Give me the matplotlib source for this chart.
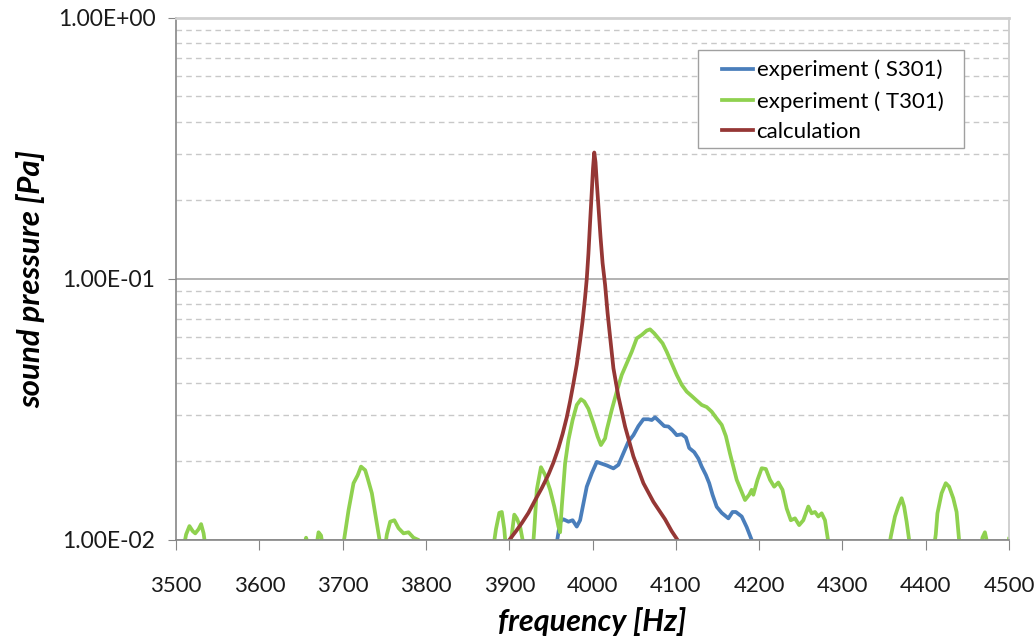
import matplotlib
matplotlib.use("Agg")
import matplotlib.pyplot as plt
from matplotlib.patches import Rectangle
from matplotlib.ticker import FixedLocator, FuncFormatter, NullFormatter

plt.rcParams['font.family'] = ['Lato', 'DejaVu Sans']

# measured spectrum, sensor S301 (Hz, Pa)
s301_freq = [3955, 3958, 3961, 3965, 3971, 3976, 3981, 3985, 3989, 3993, 3999,
             4005, 4011, 4017, 4025, 4031, 4037, 4043, 4049, 4055, 4061, 4067,
             4071, 4075, 4080, 4086, 4091, 4096, 4101, 4107, 4112, 4116, 4122,
             4127, 4131, 4136, 4140, 4144, 4149, 4155, 4163, 4168, 4172, 4179,
             4185, 4191, 4194]
s301_p = [0.0090, 0.0102, 0.01175, 0.0120, 0.01175, 0.0119, 0.01125, 0.0119,
          0.0138, 0.0160, 0.0180, 0.0199, 0.0196, 0.0193, 0.0188, 0.0194,
          0.0215, 0.0238, 0.0252, 0.0273, 0.0290, 0.0290, 0.0288, 0.0295,
          0.0285, 0.0273, 0.0272, 0.0263, 0.0252, 0.0254, 0.0247, 0.0225,
          0.0217, 0.0205, 0.0191, 0.01775, 0.0165, 0.0149, 0.0134, 0.0127,
          0.0121, 0.0128, 0.0128, 0.0123, 0.0112, 0.0100, 0.0090]

# measured spectrum, sensor T301 (Hz, Pa)
t301_freq = [3500, 3508, 3512, 3516, 3520, 3523, 3527, 3530, 3533, 3536,
             3652, 3656, 3660, 3668, 3671, 3674, 3677,
             3699, 3702, 3707, 3713, 3718, 3722, 3727, 3730, 3735, 3739, 3744, 3747,
             3750, 3753, 3757, 3762, 3767, 3773, 3779, 3785, 3791, 3795,
             3880, 3884, 3888, 3891, 3894, 3896, 3900, 3903, 3906, 3909, 3913, 3916, 3918,
             3928, 3930, 3933, 3938, 3943, 3949, 3954, 3959, 3961, 3963, 3967,
             3971, 3976, 3981, 3986, 3990, 3995, 4001, 4006, 4010, 4015, 4017,
             4023, 4029, 4035, 4041, 4047, 4053, 4059, 4065, 4069, 4074, 4079,
             4084, 4089, 4095, 4101, 4107, 4113, 4119, 4125, 4131, 4137, 4143,
             4149, 4155, 4160, 4165, 4169, 4173, 4178, 4183, 4188, 4191, 4193,
             4198, 4203, 4208, 4213, 4218, 4223, 4228, 4233, 4238, 4243, 4248,
             4253, 4259, 4263, 4267, 4271, 4275, 4279, 4282, 4285,
             4355, 4358, 4363, 4367, 4371, 4374, 4377, 4380, 4382,
             4409, 4412, 4414, 4419, 4424, 4428, 4433, 4437, 4440, 4442,
             4466, 4468, 4471, 4473, 4475, 4498, 4500]
t301_p = [0.0090, 0.0090, 0.0105, 0.0113, 0.0108, 0.0106, 0.0110, 0.0115, 0.0106, 0.0090,
          0.0090, 0.0102, 0.0093, 0.0093, 0.0107, 0.0104, 0.0090,
          0.0090, 0.0102, 0.0130, 0.0165, 0.0177, 0.0191, 0.0185, 0.0172, 0.0151, 0.01265, 0.0101, 0.0090,
          0.0090, 0.0105, 0.01175, 0.0119, 0.0111, 0.0106, 0.0107, 0.0102, 0.0100, 0.0090,
          0.0090, 0.0110, 0.0127, 0.0128, 0.0110, 0.0092, 0.0092, 0.0105, 0.0125, 0.0121, 0.01125, 0.0100, 0.0090,
          0.0090, 0.0110, 0.01556, 0.0190, 0.01775, 0.01556, 0.01343, 0.01125, 0.0107, 0.01343, 0.01967,
          0.02415, 0.0288, 0.0329, 0.0346, 0.0339, 0.0318, 0.0280, 0.0249, 0.0231, 0.0245, 0.0264,
          0.0315, 0.0370, 0.0429, 0.0475, 0.0526, 0.0592, 0.0610, 0.0634, 0.0641, 0.0619, 0.0592,
          0.0567, 0.0526, 0.0475, 0.0429, 0.0393, 0.0370, 0.0356, 0.0342, 0.0329, 0.0323, 0.0310,
          0.0292, 0.0276, 0.0250, 0.0214, 0.0191, 0.0170, 0.01556, 0.01422, 0.0149, 0.01556, 0.0149,
          0.0170, 0.01883, 0.0187, 0.0170, 0.0160, 0.0166, 0.01556, 0.0132, 0.0119, 0.0121, 0.0114,
          0.0119, 0.01343, 0.01265, 0.0128, 0.0123, 0.01265, 0.0119, 0.0103, 0.0090,
          0.0090, 0.0103, 0.0123, 0.01343, 0.01445, 0.01343, 0.01175, 0.0100, 0.0090,
          0.0090, 0.0105, 0.01265, 0.0151, 0.0165, 0.0160, 0.01445, 0.0128, 0.0100, 0.0090,
          0.0090, 0.0102, 0.0107, 0.0100, 0.0090, 0.0090, 0.0101]

# calculated response (Hz, Pa)
calc_freq = [3900, 3908, 3915, 3923, 3931, 3939, 3947, 3953, 3959, 3964, 3969,
             3973, 3977, 3981, 3985, 3988, 3991, 3993, 3995, 3997, 3999, 4000.5,
             4002, 4003.5, 4005, 4007, 4009.5, 4012, 4015, 4018, 4021, 4025,
             4031, 4039, 4049, 4061, 4073, 4087, 4095, 4102]
calc_p = [0.0100, 0.0108, 0.0116, 0.0127, 0.0142, 0.0158, 0.0178, 0.0198,
          0.0225, 0.0255, 0.0295, 0.0340, 0.0398, 0.0470, 0.0580, 0.0690,
          0.0850, 0.1000, 0.1250, 0.1650, 0.2150, 0.2650, 0.3050, 0.2800,
          0.2350, 0.1900, 0.1450, 0.1150, 0.0950, 0.0740, 0.0600, 0.0455,
          0.0354, 0.0272, 0.0209, 0.0165, 0.0140, 0.0120, 0.0108, 0.0100]

y_major = [0.01, 0.1, 1.0]
y_labels = ['1.00E-02', '1.00E-01', '1.00E+00']
x_ticks = list(range(3500, 4501, 100))

fig = plt.figure(figsize=(10.36, 6.39), dpi=100)
ax = fig.add_axes([0.170, 0.155, 0.804, 0.817])

ax.plot(s301_freq, s301_p, color='#4a7ebb', lw=2.7, label='experiment ( S301)')
ax.plot(t301_freq, t301_p, color='#8fd14f', lw=2.7, label='experiment ( T301)')
ax.plot(calc_freq, calc_p, color='#953735', lw=2.7, label='calculation')

ax.set_yscale('log')
ax.set_xlim(3500, 4500)
ax.set_ylim(0.01, 1.0)

ax.yaxis.set_major_locator(FixedLocator(y_major))
ax.yaxis.set_major_formatter(FuncFormatter(lambda v, pos: y_labels[y_major.index(v)] if v in y_major else ''))
minor = [m * d for d in (0.01, 0.1) for m in range(2, 10)]
ax.yaxis.set_minor_locator(FixedLocator(minor))
ax.yaxis.set_minor_formatter(NullFormatter())
ax.set_xticks(x_ticks)

# gridlines: solid for decades, dashed in between
ax.grid(which='major', axis='y', color='#a6a6a6', lw=1.2, ls='-')
ax.grid(which='minor', axis='y', color='#c8c8c8', lw=1.0, ls=(0, (4, 3)))
ax.set_axisbelow(True)

for side in ('left', 'bottom'):
    ax.spines[side].set_color('#868686')
    ax.spines[side].set_linewidth(1.2)
ax.spines['top'].set_color('#d0d0d0')
ax.spines['top'].set_linewidth(2)
ax.spines['right'].set_color('#c8c8c8')
ax.spines['right'].set_linewidth(1.2)

ax.tick_params(axis='x', which='major', direction='out', length=7, color='#868686',
               labelsize=16, pad=19, labelcolor='#1a1a1a')
ax.tick_params(axis='y', which='major', direction='out', length=6, color='#868686',
               labelsize=16.5, pad=9, labelcolor='#1a1a1a')
ax.tick_params(axis='y', which='minor', length=0)

ax.set_xlabel('frequency [Hz]', fontsize=22, fontweight='bold', fontstyle='italic', labelpad=8)
ax.set_ylabel('sound pressure [Pa]', fontsize=22.5, fontweight='bold', fontstyle='italic', labelpad=9)

leg = ax.legend(loc='upper right', bbox_to_anchor=(0.933, 0.939), fontsize=16, frameon=False,
                handlelength=1.4, handletextpad=0.15, borderpad=0.45,
                labelspacing=0.48, borderaxespad=0)
leg.set_zorder(6)

# legend frame drawn by hand: wider side margins, tighter bottom
fig.canvas.draw()
bb = leg.get_window_extent().transformed(fig.transFigure.inverted())
px_w = 1 / fig.bbox.width
px_h = 1 / fig.bbox.height
ax.add_patch(Rectangle((bb.x0 - 14 * px_w, bb.y0 + 4 * px_h),
                       bb.width + 25 * px_w, bb.height - 4 * px_h,
                       transform=fig.transFigure, facecolor='white', edgecolor='#a0a0a0',
                       lw=1.0, zorder=5, clip_on=False))

fig.savefig('out.png', dpi=100)
